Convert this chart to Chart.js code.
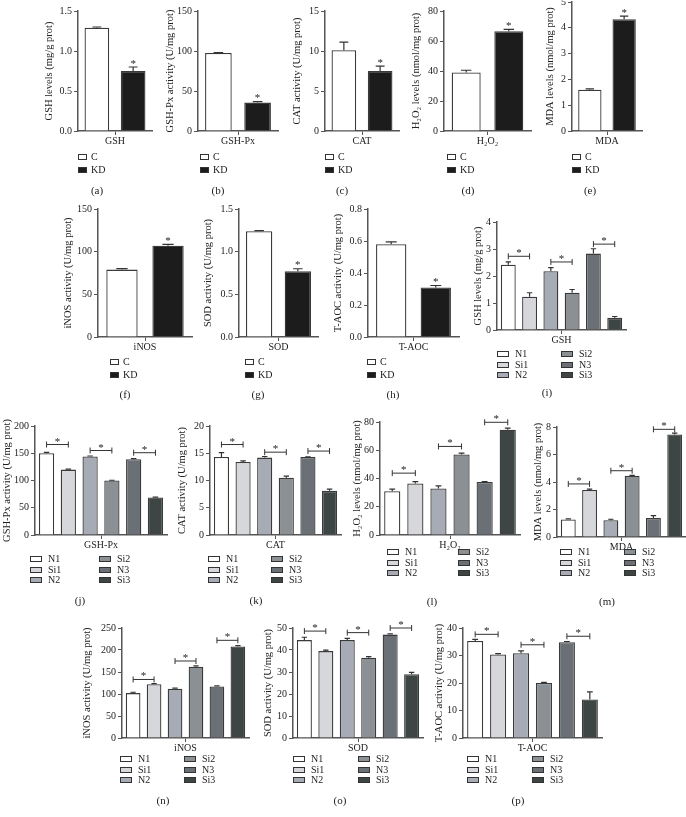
<!DOCTYPE html>
<html>
<head>
<meta charset="utf-8">
<script src="https://cdn.jsdelivr.net/npm/chart.js@4.4.1/dist/chart.umd.min.js"></script>
<style>
  body { margin: 0; background: #fff; width: 686px; height: 817px; position: relative; overflow: hidden; }
  canvas { position: absolute; }
</style>
</head>
<body>
<script>
// group names
const pairLabels = ['C', 'KD'];
const groupLabels = ['N1', 'Si1', 'N2', 'Si2', 'N3', 'Si3'];

// (a)-(h): control vs KD, mean and SEM
const gshVals = [1.29, 0.75],   gshErr = [0.01, 0.05];
const gshpxVals = [97.5, 35.5], gshpxErr = [0.5, 1.2];
const catVals = [10.1, 7.5],    catErr = [1.0, 0.6];
const h2o2Vals = [39, 66.5],    h2o2Err = [1.5, 1.2];
const mdaVals = [1.6, 4.33],    mdaErr = [0.03, 0.12];
const inosVals = [79, 107],     inosErr = [1.2, 1.5];
const sodVals = [1.24, 0.77],   sodErr = [0.006, 0.03];
const taocVals = [0.58, 0.31],  taocErr = [0.015, 0.012];

// (i)-(p): N1, Si1, N2, Si2, N3, Si3
const gsh6 = [2.42, 1.23, 2.18, 1.38, 2.83, 0.45],   gsh6Err = [0.1, 0.15, 0.13, 0.12, 0.18, 0.05];
const gshpx6 = [150, 120, 144, 100, 139, 69],        gshpx6Err = [1.5, 1, 1, 0.5, 1, 0.5];
const cat6 = [14.3, 13.4, 14.2, 10.5, 14.3, 8.1],    cat6Err = [0.8, 0.2, 0.2, 0.3, 0.05, 0.3];
const h2o26 = [31, 36.5, 33, 57, 37.5, 74.5],        h2o26Err = [1.5, 1.3, 1.8, 1, 0.3, 1.2];
const mda6 = [1.27, 3.42, 1.22, 4.45, 1.38, 7.45],   mda6Err = [0.05, 0.06, 0.07, 0.03, 0.17, 0.1];
const inos6 = [102, 122, 112, 162, 117, 208],        inos6Err = [2, 1.5, 1.5, 2, 1.5, 2];
const sod6 = [44.5, 39.5, 44.5, 36.5, 47, 29],       sod6Err = [1.3, 0.4, 0.8, 0.5, 0.3, 0.8];
const taoc6 = [35.3, 30.4, 30.8, 20, 34.8, 14],      taoc6Err = [0.6, 0.3, 0.9, 0.2, 0.3, 2.8];

// height of the significance brackets (N1-Si1, N2-Si2, N3-Si3)
const gsh6Sig = [2.73, 2.52, 3.18];
const gshpx6Sig = [166, 155, 151];
const cat6Sig = [16.6, 15.2, 15.4];
const h2o26Sig = [43.8, 62.7, 79.8];
const mda6Sig = [3.86, 4.82, 7.83];
const inos6Sig = [133, 175, 222];
const sod6Sig = [48.6, 47.9, 50];
const taoc6Sig = [37.7, 33.9, 37];

// y axis tops / steps
const yMax = [1.5, 150, 15, 80, 5, 150, 1.5, 0.8, 4, 200, 20, 80, 8, 250, 50, 40];
const yStep = [0.5, 50, 5, 20, 1, 50, 0.5, 0.2, 1, 50, 5, 20, 2, 50, 10, 10];
const yDecimals = [1, 0, 0, 0, 0, 0, 1, 1, 0, 0, 0, 0, 0, 0, 0, 0];

const pairColors = ['#ffffff', '#1c1c1c'];
const groupColors = ['#ffffff', '#d5d7db', '#a6abb5', '#8b9095', '#6a7076', '#3d4545'];

// panel layout: plot area (L,T,R,B), y title x, legend x / first row, panel label
const panels = [
  { id: 'a', x: 'GSH', yt: 'GSH levels (mg/g prot)', vals: gshVals, err: gshErr, L: 78, T: 11, R: 152, B: 131, tx: 49, lx: [78], ly: 157, lab: [97, 191] },
  { id: 'b', x: 'GSH-Px', yt: 'GSH-Px activity (U/mg prot)', vals: gshpxVals, err: gshpxErr, L: 198, T: 11, R: 278, B: 131, tx: 170, lx: [200], ly: 157, lab: [218, 191] },
  { id: 'c', x: 'CAT', yt: 'CAT activity (U/mg prot)', vals: catVals, err: catErr, L: 325, T: 11, R: 399, B: 131, tx: 297, lx: [325], ly: 157, lab: [342, 191] },
  { id: 'd', x: 'H₂O₂', yt: 'H₂O₂ levels (nmol/mg prot)', vals: h2o2Vals, err: h2o2Err, L: 444, T: 11, R: 531, B: 131, tx: 416, lx: [447], ly: 157, lab: [468, 191] },
  { id: 'e', x: 'MDA', yt: 'MDA levels (nmol/mg prot)', vals: mdaVals, err: mdaErr, L: 572, T: 2, R: 642, B: 131, tx: 550, lx: [572], ly: 157, lab: [590, 191] },
  { id: 'f', x: 'iNOS', yt: 'iNOS activity (U/mg prot)', vals: inosVals, err: inosErr, L: 98, T: 209, R: 192, B: 337, tx: 68, lx: [110], ly: 362, lab: [125, 395] },
  { id: 'g', x: 'SOD', yt: 'SOD activity (U/mg prot)', vals: sodVals, err: sodErr, L: 239, T: 209, R: 318, B: 337, tx: 208, lx: [245], ly: 362, lab: [258, 395] },
  { id: 'h', x: 'T-AOC', yt: 'T-AOC activity (U/mg prot)', vals: taocVals, err: taocErr, L: 368, T: 209, R: 459, B: 337, tx: 338, lx: [367], ly: 362, lab: [393, 395] },
  { id: 'i', x: 'GSH', yt: 'GSH levels (mg/g prot)', vals: gsh6, err: gsh6Err, sig: gsh6Sig, L: 497, T: 222, R: 626, B: 330, tx: 478, lx: [497, 561], ly: 354, lab: [547, 393] },
  { id: 'j', x: 'GSH-Px', yt: 'GSH-Px activity (U/mg prot)', vals: gshpx6, err: gshpx6Err, sig: gshpx6Sig, L: 35, T: 426, R: 167, B: 535, tx: 7, lx: [30, 99], ly: 559, lab: [80, 601] },
  { id: 'k', x: 'CAT', yt: 'CAT activity (U/mg prot)', vals: cat6, err: cat6Err, sig: cat6Sig, L: 210, T: 426, R: 341, B: 535, tx: 182, lx: [208, 271], ly: 559, lab: [256, 601] },
  { id: 'l', x: 'H₂O₂', yt: 'H₂O₂ levels (nmol/mg prot)', vals: h2o26, err: h2o26Err, sig: h2o26Sig, L: 380, T: 422, R: 520, B: 535, tx: 357, lx: [387, 458], ly: 552, lab: [432, 602] },
  { id: 'm', x: 'MDA', yt: 'MDA levels (nmol/mg prot)', vals: mda6, err: mda6Err, sig: mda6Sig, L: 557, T: 427, R: 686, B: 537, tx: 538, lx: [560, 624], ly: 552, lab: [607, 602] },
  { id: 'n', x: 'iNOS', yt: 'iNOS activity (U/mg prot)', vals: inos6, err: inos6Err, sig: inos6Sig, L: 122, T: 628, R: 249, B: 738, tx: 87, lx: [120, 184], ly: 759, lab: [163, 801] },
  { id: 'o', x: 'SOD', yt: 'SOD activity (U/mg prot)', vals: sod6, err: sod6Err, sig: sod6Sig, L: 293, T: 628, R: 423, B: 738, tx: 268, lx: [293, 358], ly: 759, lab: [340, 801] },
  { id: 'p', x: 'T-AOC', yt: 'T-AOC activity (U/mg prot)', vals: taoc6, err: taoc6Err, sig: taoc6Sig, L: 463, T: 628, R: 602, B: 738, tx: 439, lx: [467, 532], ly: 759, lab: [518, 801] }
];

const ink = '#222';
const axisCol = '#555';
const font = '"Liberation Serif", "DejaVu Serif", serif';

// error bars, stars and brackets
const marks = {
  id: 'marks',
  afterDatasetsDraw(chart, args, opts) {
    const ctx = chart.ctx, ys = chart.scales.y;
    const bars = chart.data.datasets.map((ds, k) => chart.getDatasetMeta(k).data[0]);
    ctx.save();
    ctx.strokeStyle = '#333';
    ctx.fillStyle = ink;
    ctx.lineWidth = 1.2;
    const tops = [];
    opts.err.forEach((e, k) => {
      const b = bars[k];
      const top = ys.getPixelForValue(opts.vals[k] + e);
      tops.push(top);
      const w = Math.max(b.width * 0.36, 5);
      ctx.beginPath();
      ctx.moveTo(b.x, b.y);
      ctx.lineTo(b.x, top);
      ctx.moveTo(b.x - w / 2, top);
      ctx.lineTo(b.x + w / 2, top);
      ctx.stroke();
    });
    ctx.font = '11px ' + font;
    ctx.textAlign = 'center';
    ctx.textBaseline = 'alphabetic';
    if (opts.sig) {
      ctx.lineWidth = 1;
      opts.sig.forEach((v, s) => {
        const b1 = bars[s * 2], b2 = bars[s * 2 + 1];
        const y = ys.getPixelForValue(v);
        ctx.beginPath();
        ctx.moveTo(b1.x, y); ctx.lineTo(b2.x, y);
        ctx.moveTo(b1.x, y - 3); ctx.lineTo(b1.x, y + 3);
        ctx.moveTo(b2.x, y - 3); ctx.lineTo(b2.x, y + 3);
        ctx.stroke();
        ctx.fillText('*', (b1.x + b2.x) / 2, y);
      });
    } else {
      ctx.fillText('*', bars[1].x, tops[1] - 0.5);
    }
    ctx.restore();
  }
};

const tickFont = { family: font, size: 10 };
const titleFont = { family: font, size: 10.5 };

panels.forEach((p, n) => {
  const six = p.vals.length === 6;
  const labels = six ? groupLabels : pairLabels;
  const colors = six ? groupColors : pairColors;

  const left = Math.round(p.tx - 6.3);
  const top = p.T - 10;
  const w = p.R + 6 - left;
  const h = p.B + 18 - top;
  const cv = document.createElement('canvas');
  cv.width = w; cv.height = h;
  cv.style.left = left + 'px';
  cv.style.top = top + 'px';
  cv.style.width = w + 'px';
  cv.style.height = h + 'px';
  document.body.appendChild(cv);

  new Chart(cv.getContext('2d'), {
    type: 'bar',
    data: {
      labels: [p.x],
      datasets: labels.map((g, k) => ({
        label: g,
        data: [p.vals[k]],
        backgroundColor: colors[k],
        borderColor: '#3a3a3a',
        borderWidth: 1.3,
        categoryPercentage: six ? 0.99 : 0.98,
        barPercentage: six ? 0.7 : 0.68
      }))
    },
    options: {
      responsive: false,
      animation: false,
      layout: { padding: { top: 10, right: 6, bottom: 0, left: 0 } },
      plugins: {
        legend: { display: false },
        tooltip: { enabled: false },
        marks: { vals: p.vals, err: p.err, sig: p.sig }
      },
      scales: {
        x: {
          offset: true,
          afterFit: s => { s.height = 18; },
          grid: { drawOnChartArea: false, drawTicks: true, tickLength: 4, color: axisCol, offset: false },
          border: { color: axisCol, width: 1.5 },
          ticks: { color: ink, padding: 0, font: tickFont }
        },
        y: {
          min: 0,
          max: yMax[n],
          afterFit: s => { s.width = p.L - left; },
          grid: { drawOnChartArea: false, drawTicks: true, tickLength: 4, color: axisCol },
          border: { color: axisCol, width: 1.5 },
          ticks: {
            stepSize: yStep[n],
            color: ink,
            padding: 2,
            font: tickFont,
            callback: v => Number(v).toFixed(yDecimals[n])
          },
          title: { display: true, text: p.yt, color: ink, padding: 0, font: titleFont }
        }
      }
    },
    plugins: [marks]
  });
});

// legends and panel letters on one overlay canvas
const ov = document.createElement('canvas');
ov.width = 686; ov.height = 817;
ov.style.left = '0px'; ov.style.top = '0px';
document.body.appendChild(ov);
const g = ov.getContext('2d');
g.textBaseline = 'middle';
panels.forEach(p => {
  const six = p.vals.length === 6;
  const labels = six ? groupLabels : pairLabels;
  const colors = six ? groupColors : pairColors;
  const bw = six ? 12 : 9;
  const rowGap = six ? 10.5 : 12.5;
  g.font = '10px ' + font;
  g.textAlign = 'left';
  labels.forEach((name, k) => {
    const col = six ? Math.floor(k / 3) : 0;
    const row = six ? k % 3 : k;
    const x = p.lx[col];
    const y = Math.round(p.ly + row * rowGap);
    g.fillStyle = colors[k];
    g.fillRect(x, y - 3, bw, 6);
    g.strokeStyle = '#333';
    g.lineWidth = 1;
    g.strokeRect(x + 0.5, y - 2.5, bw - 1, 5);
    g.fillStyle = ink;
    g.fillText(name, x + bw + (six ? 6 : 4), y + 0.5);
  });
  g.font = '11px ' + font;
  g.textAlign = 'center';
  g.fillStyle = ink;
  g.fillText('(' + p.id + ')', p.lab[0], p.lab[1]);
});
</script>
</body>
</html>
